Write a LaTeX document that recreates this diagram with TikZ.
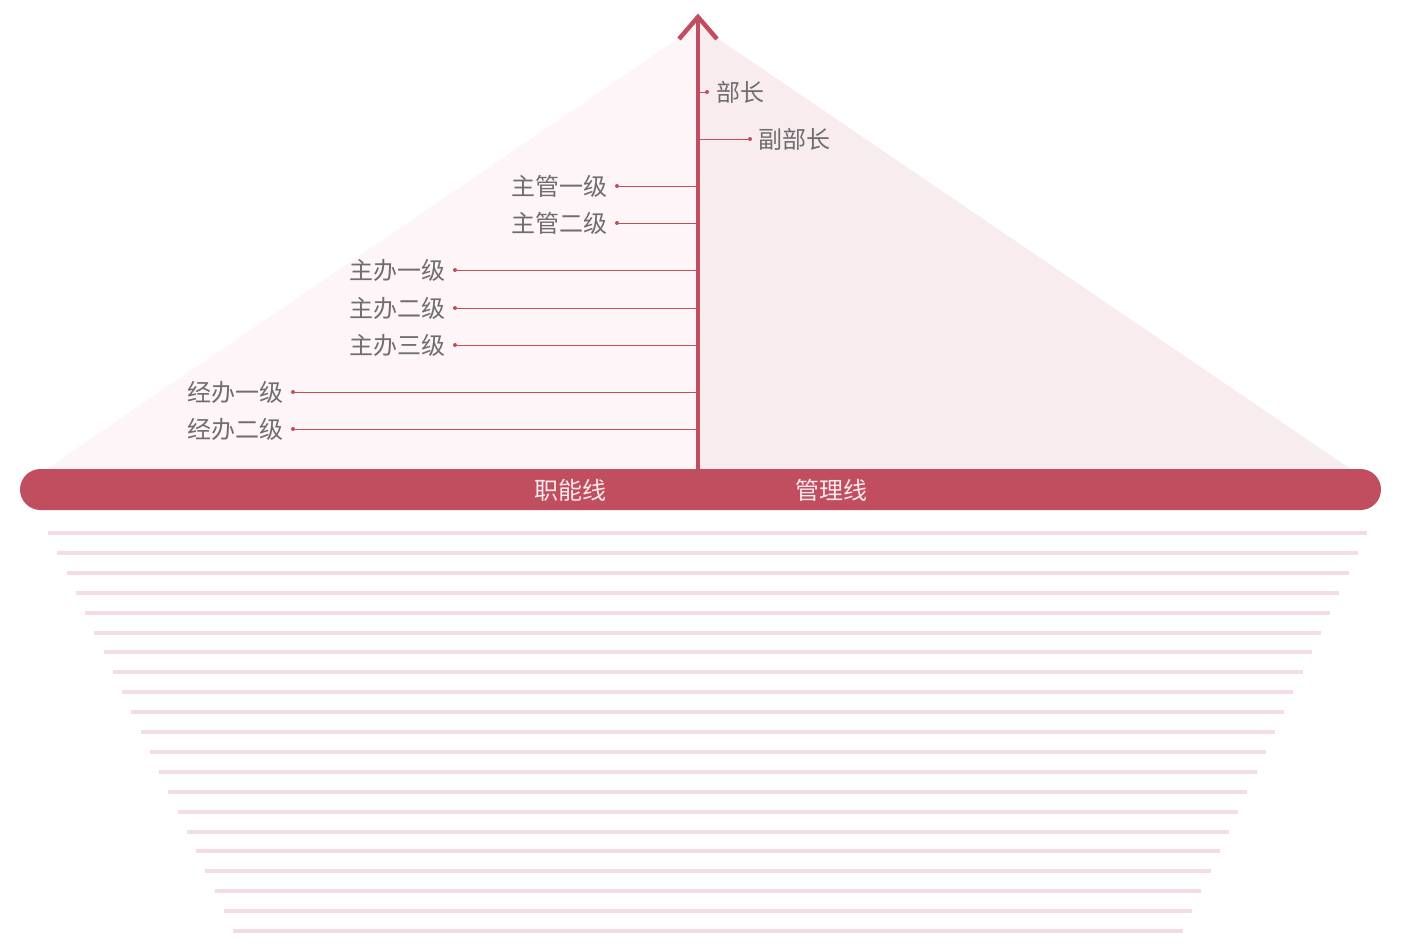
\documentclass[tikz,border=0pt]{standalone}
\usepackage{fontspec}
\setmainfont{Noto Sans CJK SC}
\newfontfamily\cjk{Noto Sans CJK SC}
\begin{document}
\begin{tikzpicture}[x=1pt,y=-1pt,
  lbl/.style={font=\cjk\fontsize{24}{27}\selectfont, text=labelgray, inner sep=0pt},
  barlbl/.style={font=\cjk\fontsize{24}{27}\selectfont, text=barText, inner sep=0pt},
  conn/.style={draw=barRed, line width=0.9pt},
  dotc/.style={circle, fill=barRed, inner sep=0pt, minimum size=4pt},
  stripe/.style={draw=stripePink, line width=4pt}]
\definecolor{barRed}{HTML}{C04E5F}
\definecolor{leftFill}{HTML}{FDF5F7}
\definecolor{rightFill}{HTML}{F8ECEF}
\definecolor{stripePink}{HTML}{F3DDE2}
\definecolor{labelgray}{HTML}{6E6E6E}
\definecolor{barText}{HTML}{FBE9EC}
\useasboundingbox (0,0) rectangle (1402,949);
\fill[white] (0,0) rectangle (1402,949);
% triangle halves
\fill[leftFill] (45,470) -- (698,25) -- (698,470) -- cycle;
\fill[rightFill] (698,25) -- (1352,470) -- (698,470) -- cycle;
% base bar
\fill[barRed, rounded corners=20.5pt] (20,469) rectangle (1381,510);
\node[barlbl] (zn) at (570,490) {职能线};
\node[barlbl] (gl) at (831,490) {管理线};
% stripes
\foreach \i in {0,...,20} {
  \draw[stripe] ({48+9.25*\i},{533+19.9*\i}) -- ({1367-9.2*\i},{533+19.9*\i});
}
% main axis
\coordinate (axbot) at (698,469);
\coordinate (axtop) at (698,17);
\coordinate (chl) at (679,39);
\coordinate (chr) at (717,39);
\draw[barRed, line width=4pt] (axbot) -- (axtop);
\draw[barRed, line width=4.5pt, line join=miter, line cap=butt] (chl) -- (axtop) -- (chr);
% right labels
\node[dotc] (d1) at (707,92) {};
\node[lbl, anchor=west] (t1) at (716,92) {部长};
\draw[conn] (700,92) -- (d1);
\node[dotc] (d2) at (750,139) {};
\node[lbl, anchor=west] (t2) at (758,139) {副部长};
\draw[conn] (700,139) -- (d2);
% left labels
\foreach \name/\txt/\x/\y in {a/主管一级/617/186, b/主管二级/617/223, c/主办一级/455/270, d/主办二级/455/308, e/主办三级/455/345, f/经办一级/293/392, g/经办二级/293/429} {
  \node[dotc] (dot\name) at (\x,\y) {};
  \node[lbl, anchor=east] (txt\name) at (\x-9,\y) {\txt};
  \coordinate (end\name) at (696,\y);
  \draw[conn] (dot\name) -- (end\name);
}
\end{tikzpicture}
\end{document}
